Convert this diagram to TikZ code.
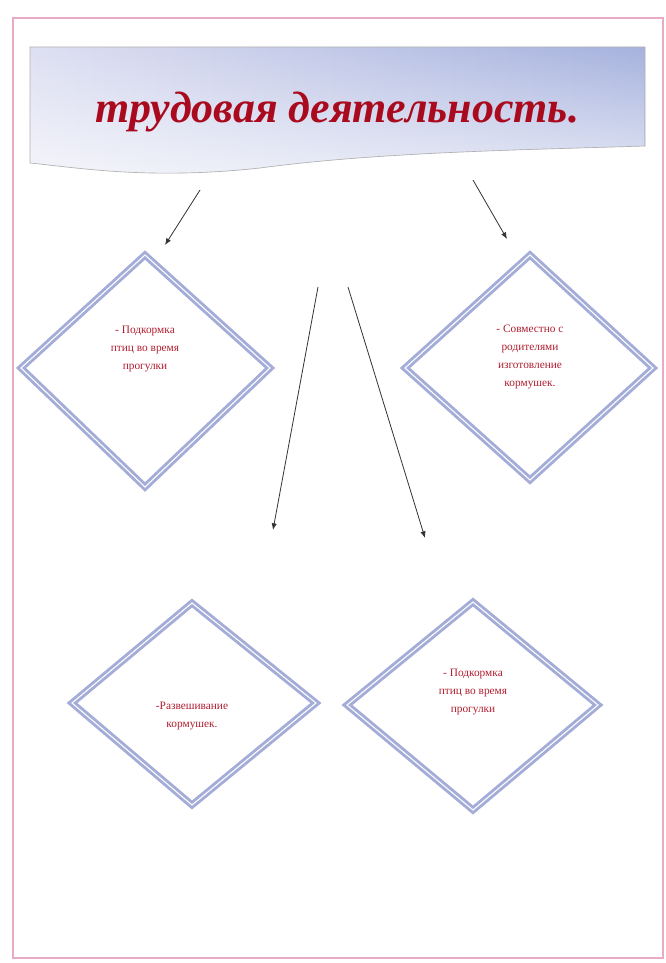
\documentclass[tikz,border=0pt]{standalone}
\usepackage{fontspec}
\setmainfont{Liberation Serif}
\usetikzlibrary{shapes.geometric,arrows.meta,fadings}
\definecolor{framepink}{RGB}{232,170,196}
\definecolor{diablue}{RGB}{164,172,216}
\definecolor{textred}{RGB}{176,30,48}
\definecolor{titlered}{RGB}{170,10,30}
\definecolor{banl}{RGB}{222,224,242}
\definecolor{banr}{RGB}{166,178,222}
\tikzset{
  diabox/.style={draw=diablue, line width=2.2pt, double=white, double distance=0.8pt, fill=white},
  diatext/.style={text=textred, align=center, font=\fontsize{8.5}{13.5}\selectfont},
  conn/.style={draw=black!80, line width=0.6pt, -{Latex[length=5pt,width=4pt]}},
}
\begin{document}
\begin{tikzpicture}[x=0.75pt,y=-0.75pt]
\useasboundingbox (0,0) rectangle (665,963);
\fill[white] (0,0) rectangle (665,963);
% page frame
\draw[framepink, line width=2.2pt] (13,958) -- (13,18) -- (663,18) -- (663,958) -- cycle;
% banner
\def\bannerpath{(30,47) -- (645,47) -- (645,146)
  .. controls (520,150) and (380,152) .. (260,168)
  .. controls (150,180) and (80,168) .. (30,163) -- cycle}
\shade[left color=banl, right color=banr] \bannerpath;
\fill[white, fill opacity=0.7, path fading=north] \bannerpath;
\draw[black!30, line width=0.5pt] \bannerpath;
\node[font=\fontsize{33}{36}\selectfont\bfseries\itshape, text=titlered] (title) at (337,112) {трудовая деятельность.};
% diamonds
\draw[diabox] (145,255) -- (270,368) -- (145,487) -- (21,368) -- cycle;
\draw[diabox] (530,255) -- (653,368) -- (530,480) -- (405,368) -- cycle;
\draw[diabox] (192,603) -- (316,703) -- (192,805) -- (72,703) -- cycle;
\draw[diabox] (473,602) -- (598,705) -- (473,810) -- (347,705) -- cycle;
\node[diatext] (d1) at (145,349) {- Подкормка\\птиц во время\\прогулки};
\node[diatext] (d2) at (530,357) {- Совместно с\\родителями\\изготовление\\кормушек.};
\node[diatext] (d3) at (192,716) {-Развешивание\\кормушек.};
\node[diatext] (d4) at (473,692) {- Подкормка\\птиц во время\\прогулки};
% connectors
\coordinate (a1s) at (200,190); \coordinate (a1e) at (165,245);
\coordinate (a2s) at (473,180); \coordinate (a2e) at (507,239);
\coordinate (a3s) at (318,287); \coordinate (a3e) at (273,530);
\coordinate (a4s) at (348,287); \coordinate (a4e) at (425,538);
\draw[conn] (a1s) -- (a1e);
\draw[conn] (a2s) -- (a2e);
\draw[conn] (a3s) -- (a3e);
\draw[conn] (a4s) -- (a4e);
\end{tikzpicture}
\end{document}
